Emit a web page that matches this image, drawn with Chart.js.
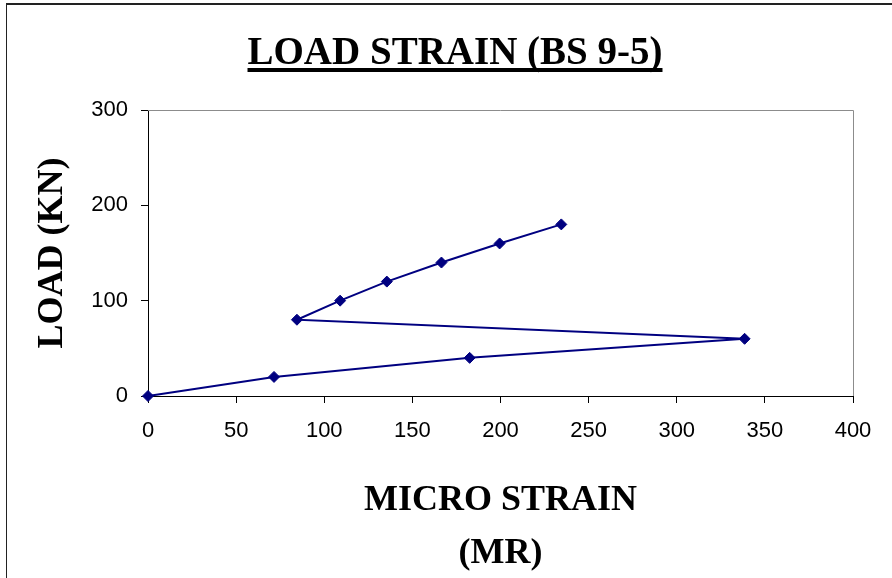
<!DOCTYPE html>
<html>
<head>
<meta charset="utf-8">
<script src="https://cdn.jsdelivr.net/npm/chart.js@4/dist/chart.umd.min.js"></script>
<style>
  html, body { margin: 0; padding: 0; background: #fff; }
  #wrap { position: relative; width: 892px; height: 578px; }
  #frame {
    position: absolute; left: 6px; top: 3px; right: 0; bottom: 0;
    border-top: 2px solid #222; border-left: 1px solid #222;
    pointer-events: none;
  }
</style>
</head>
<body>
<div id="wrap">
  <canvas id="loadCanvas" width="892" height="578"></canvas>
  <div id="frame"></div>
</div>
<script>
// Micro strain readings vs applied load (BS 9-5)
const STRAIN = [0, 71.5, 182.5, 338.5, 84.5, 109, 135.5, 166.5, 199.5, 234.5];
const LOAD = [0, 20, 40, 60, 80, 100, 120, 140, 160, 180];

const X_TICKS = [0, 50, 100, 150, 200, 250, 300, 350, 400];
const Y_TICKS = [0, 100, 200, 300];

const CHART_TITLE = 'LOAD STRAIN (BS 9-5)';
const X_TITLE = ['MICRO STRAIN', '(MR)'];
const Y_TITLE = 'LOAD (KN)';

const LINE_COLOR = '#000080';

// Underlined title drawn above the plot
const titlePlugin = {
  id: 'underlinedTitle',
  afterDraw(chart) {
    const { ctx } = chart;
    ctx.save();
    ctx.font = 'bold 39px "Liberation Serif", "Times New Roman", serif';
    ctx.fillStyle = '#000';
    ctx.textAlign = 'center';
    ctx.textBaseline = 'alphabetic';
    const cx = 455;
    ctx.fillText(CHART_TITLE, cx, 64);
    const w = ctx.measureText(CHART_TITLE).width;
    ctx.fillRect(cx - w / 2, 68, w, 4);
    ctx.restore();
  },
};

// Grey frame on the top and right of the plot area
const plotFrame = {
  id: 'plotFrame',
  beforeDatasetsDraw(chart) {
    const { ctx, chartArea: a } = chart;
    ctx.save();
    ctx.strokeStyle = '#8c8c8c';
    ctx.lineWidth = 1;
    ctx.beginPath();
    ctx.moveTo(a.left, a.top + 0.5);
    ctx.lineTo(a.right + 0.5, a.top + 0.5);
    ctx.lineTo(a.right + 0.5, a.bottom);
    ctx.stroke();
    ctx.restore();
  },
};

const canvas = document.getElementById('loadCanvas');

new Chart(canvas, {
  type: 'scatter',
  data: {
    datasets: [
      {
        data: STRAIN.map((x, i) => ({ x, y: LOAD[i] })),
        showLine: true,
        clip: false,
        borderColor: LINE_COLOR,
        backgroundColor: LINE_COLOR,
        borderWidth: 2,
        pointStyle: 'rectRot',
        pointRadius: 5.5,
        pointBorderWidth: 1,
        pointHoverRadius: 5.5,
        tension: 0,
      },
    ],
  },
  options: {
    responsive: false,
    animation: false,
    layout: { padding: { top: 110, right: 39, left: 0, bottom: 0 } },
    plugins: {
      legend: { display: false },
      tooltip: { enabled: false },
    },
    scales: {
      x: {
        type: 'linear',
        min: 0,
        max: 400,
        afterBuildTicks: (s) => { s.ticks = X_TICKS.map((v) => ({ value: v })); },
        afterFit: (s) => { s.height = 182; },
        border: { display: true, color: '#000', width: 1 },
        grid: { drawOnChartArea: false, drawTicks: true, tickLength: 7, color: '#000' },
        ticks: {
          color: '#000',
          padding: 15,
          maxRotation: 0,
          font: { family: '"Liberation Sans", Arial, sans-serif', size: 22 },
        },
        title: {
          display: true,
          text: X_TITLE,
          color: '#000',
          padding: { top: 0, bottom: -2 },
          font: { family: '"Liberation Serif", "Times New Roman", serif', size: 36, weight: 'bold', lineHeight: 1.47 },
        },
      },
      y: {
        type: 'linear',
        min: 0,
        max: 300,
        afterBuildTicks: (s) => { s.ticks = Y_TICKS.map((v) => ({ value: v })); },
        afterFit: (s) => { s.width = 148; },
        border: { display: true, color: '#000', width: 1 },
        grid: { drawOnChartArea: false, drawTicks: true, tickLength: 7, color: '#000' },
        ticks: {
          color: '#000',
          padding: 13,
          font: { family: '"Liberation Sans", Arial, sans-serif', size: 22 },
        },
        title: {
          display: true,
          text: Y_TITLE,
          color: '#000',
          padding: { top: 31, bottom: 0 },
          font: { family: '"Liberation Serif", "Times New Roman", serif', size: 36, weight: 'bold', lineHeight: 1.2 },
        },
      },
    },
  },
  plugins: [titlePlugin, plotFrame],
});
</script>
</body>
</html>
